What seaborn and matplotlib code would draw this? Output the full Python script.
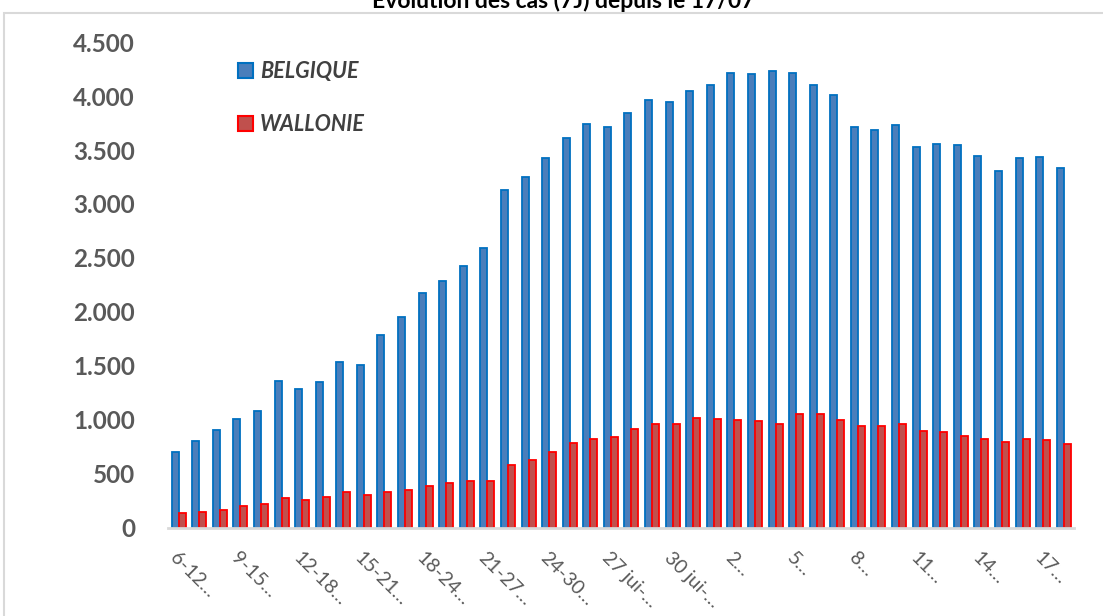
import pandas as pd
import matplotlib.pyplot as plt
import seaborn as sns
from matplotlib.patches import Rectangle, Patch

# Périodes glissantes de 7 jours
periodes = [
    "6-12 juil", "7-13 juil", "8-14 juil", "9-15 juil", "10-16 juil", "11-17 juil",
    "12-18 juil", "13-19 juil", "14-20 juil", "15-21 juil", "16-22 juil", "17-23 juil",
    "18-24 juil", "19-25 juil", "20-26 juil", "21-27 juil", "22-28 juil", "23-29 juil",
    "24-30 juil", "25-31 juil", "26 juil-1 août", "27 juil-2 août", "28 juil-3 août",
    "29 juil-4 août", "30 juil-5 août", "31 juil-6 août", "1-7 août", "2-8 août",
    "3-9 août", "4-10 août", "5-11 août", "6-12 août", "7-13 août", "8-14 août",
    "9-15 août", "10-16 août", "11-17 août", "12-18 août", "13-19 août", "14-20 août",
    "15-21 août", "16-22 août", "17-23 août", "18-24 août",
]

belgique = [704, 806, 905, 1006, 1080, 1364, 1290, 1352, 1540, 1512,
            1787, 1951, 2176, 2290, 2429, 2590, 3130, 3250, 3429, 3611,
            3738, 3716, 3843, 3963, 3941, 4049, 4105, 4216, 4201, 4228,
            4216, 4105, 4006, 3716, 3688, 3731, 3531, 3558, 3546, 3444,
            3306, 3426, 3435, 3333]

wallonie = [142, 151, 170, 207, 222, 281, 256, 290, 333, 309,
            336, 355, 386, 420, 435, 435, 586, 630, 707, 790,
            821, 843, 920, 966, 966, 1019, 1012, 1003, 991, 960,
            1056, 1052, 1000, 947, 944, 963, 901, 886, 852, 827,
            793, 824, 818, 781]

# étiquettes affichées (une sur trois, tronquées comme dans Excel)
etiquettes = ["6-12…", "9-15…", "12-18…", "15-21…", "18-24…", "21-27…", "24-30…",
              "27 jui-…", "30 jui-…", "2…", "5…", "8…", "11…", "14…", "17…"]

series = ["BELGIQUE", "WALLONIE"]
couleurs = {"BELGIQUE": "#4a7ebb", "WALLONIE": "#c0504d"}
bords = {"BELGIQUE": "#0070c0", "WALLONIE": "#ff0000"}

df = pd.DataFrame({
    "periode": periodes * 2,
    "cas": belgique + wallonie,
    "region": ["BELGIQUE"] * len(belgique) + ["WALLONIE"] * len(wallonie),
})

sns.set_style("white")
plt.rcParams["font.family"] = ["Lato", "DejaVu Sans"]

fig = plt.figure(figsize=(11.03, 6.16), dpi=100)
ax = fig.add_axes([0.1526, 0.1429, 0.8211, 0.7889])

sns.barplot(data=df, x="periode", y="cas", hue="region", order=periodes,
            hue_order=series, palette=couleurs, width=0.68, saturation=1,
            legend=False, ax=ax)

for cont, s in zip(ax.containers, series):
    for b in cont:
        b.set_edgecolor(bords[s])
        b.set_linewidth(1.3)

ax.set_ylim(0, 4500)
ax.set_xlim(-0.5, len(periodes) - 0.5)
ax.set_yticks(range(0, 4501, 500))
ax.set_yticklabels([f"{v:,}".replace(",", ".") for v in range(0, 4501, 500)],
                   fontsize=17.5, fontweight="bold", color="#595959")
ax.tick_params(axis="y", length=0, pad=24)

# graduations aux limites de catégories, étiquettes toutes les 3 catégories
ax.set_xticks([i - 0.5 for i in range(len(periodes) + 1)])
ax.set_xticklabels([])
ax.tick_params(axis="x", which="major", length=7, width=1.5, color="#d9d9d9")
ax.set_xticks(list(range(0, len(periodes), 3)), minor=True)
ax.set_xticklabels(etiquettes, minor=True, rotation=-45, ha="left", va="top",
                   rotation_mode="anchor", fontsize=14, color="#595959")
ax.tick_params(axis="x", which="minor", length=0, pad=15)

ax.set_xlabel("")
ax.set_ylabel("")
for side in ["top", "right", "left"]:
    ax.spines[side].set_visible(False)
ax.spines["bottom"].set_color("#d9d9d9")
ax.spines["bottom"].set_linewidth(2)

handles = [Patch(facecolor=couleurs[s], edgecolor=bords[s], linewidth=1.5) for s in series]
ax.legend(handles, series, loc="upper left", bbox_to_anchor=(0.055, 1.0),
          frameon=False, handlelength=0.7, handleheight=0.7, handletextpad=0.35,
          labelspacing=1.45,
          prop={"size": 15.5, "weight": "bold", "style": "italic"},
          labelcolor="#404040")

# cadre du graphique et titre coupé en haut
fig.patches.append(Rectangle((4 / 1103, -0.1), 1.2, (616 - 12.7) / 616 + 0.1,
                             transform=fig.transFigure, fill=False,
                             edgecolor="#d9d9d9", linewidth=1.5))
fig.text(0.511, 1 - 8 / 616, "Évolution des cas (7J) depuis le 17/07",
         ha="center", va="baseline", fontsize=16.5, fontweight="bold", color="#000000")

plt.savefig("out.png", dpi=100)
